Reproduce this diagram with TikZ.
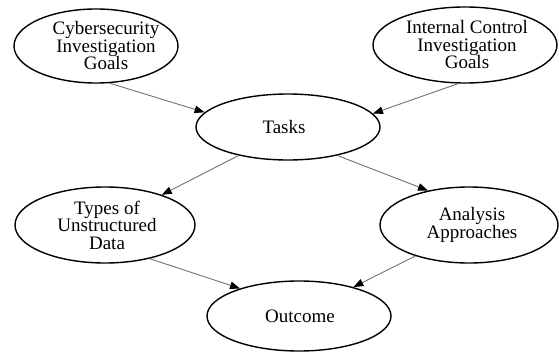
\documentclass[tikz,border=0pt]{standalone}
\usepackage{fontspec}
\setmainfont{Liberation Serif}
\usetikzlibrary{shapes.geometric,arrows.meta}
\begin{document}
\begin{tikzpicture}[x=1pt,y=-1pt,
  oval/.style={ellipse, draw=black, line width=1.4pt, inner sep=0pt},
  lbl/.style={align=center, inner sep=0pt, font=\fontsize{19}{17.5}\selectfont},
  link/.style={draw=black!55, line width=0.9pt,
    -{Triangle[length=10pt,width=7.5pt,color=black]}}]
\fill[white] (0,0) rectangle (559,353);
\useasboundingbox (0,0) rectangle (559,353);
\node[oval, minimum width=164pt, minimum height=74pt] (cyber) at (96,46) {};
\node[lbl] (cybert) at (106,46) {Cybersecurity\\Investigation\\Goals};
\node[oval, minimum width=184pt, minimum height=76pt] (internal) at (465,45) {};
\node[lbl] (internalt) at (467,45) {Internal Control\\Investigation\\Goals};
\node[oval, minimum width=184pt, minimum height=66pt] (tasks) at (288,127) {};
\node[lbl] (taskst) at (284,127) {Tasks};
\node[oval, minimum width=180pt, minimum height=76pt] (types) at (105,225) {};
\node[lbl] (typest) at (107,225) {Types of\\Unstructured\\Data};
\node[oval, minimum width=178pt, minimum height=76pt] (analysis) at (469,225) {};
\node[lbl] (analysist) at (472,225) {Analysis\\Approaches};
\node[oval, minimum width=184pt, minimum height=70pt] (outcome) at (299,316) {};
\node[lbl] (outcomet) at (300,316) {Outcome};
\draw[link] (cyber.-70) -- (tasks.170);
\draw[link] (internal.-100) -- (tasks.9);
\draw[link] (tasks.-150) -- (types.28);
\draw[link] (tasks.-30) -- (analysis.140);
\draw[link] (types.-37) -- (outcome.155);
\draw[link] (analysis.-150) -- (outcome.28);
\end{tikzpicture}
\end{document}
